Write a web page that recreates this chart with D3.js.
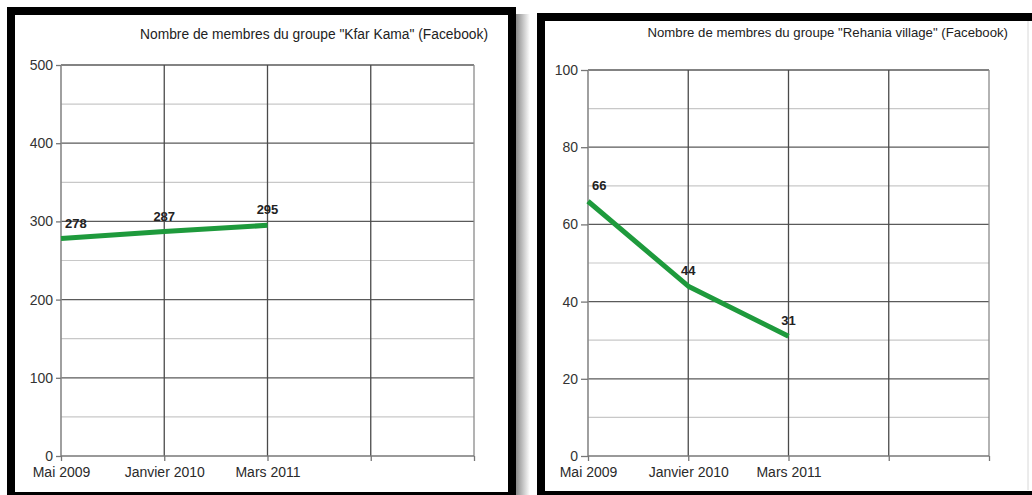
<!DOCTYPE html>
<html>
<head>
<meta charset="utf-8">
<script src="https://cdn.jsdelivr.net/npm/d3@7"></script>
<style>
  html, body { margin: 0; padding: 0; background: #ffffff; }
  svg { display: block; }
  text { font-family: "Liberation Sans", Arial, sans-serif; }
</style>
</head>
<body>
<svg id="chart" width="1032" height="495"></svg>
<script>
// ---- data ----
const categories = ["Mai 2009", "Janvier 2010", "Mars 2011", "", ""];
const kfarKamaValues = [278, 287, 295];
const rehaniaValues = [66, 44, 31];
const kfarKamaTicks = [0, 100, 200, 300, 400, 500];
const rehaniaTicks = [0, 20, 40, 60, 80, 100];
const kfarKamaTitle = "Nombre de membres du groupe \"Kfar Kama\" (Facebook)";
const rehaniaTitle = "Nombre de membres du groupe \"Rehania village\" (Facebook)";

const svg = d3.select("#chart");

// drop shadow gradient
const defs = svg.append("defs");
const grad = defs.append("linearGradient").attr("id", "shadow").attr("x1", "0").attr("x2", "1");
grad.append("stop").attr("offset", "0%").attr("stop-color", "#8a8a8a");
grad.append("stop").attr("offset", "100%").attr("stop-color", "#ffffff");

svg.append("rect").attr("x", 516).attr("y", 14).attr("width", 14).attr("height", 481).attr("fill", "url(#shadow)");

// frames
svg.append("rect").attr("x", 11).attr("y", 11).attr("width", 501).attr("height", 485)
  .attr("fill", "#fff").attr("stroke", "#000").attr("stroke-width", 8);
svg.append("rect").attr("x", 541).attr("y", 17).attr("width", 500).attr("height", 478)
  .attr("fill", "#fff").attr("stroke", "#000").attr("stroke-width", 8);
svg.append("line").attr("x1", 1028).attr("x2", 1028).attr("y1", 21).attr("y2", 490)
  .attr("stroke", "#d8d8d8").attr("stroke-width", 1);

function drawPanel(cfg) {
  const g = svg.append("g");
  const x = d3.scalePoint().domain(d3.range(categories.length)).range([cfg.left, cfg.right]);
  const y = d3.scaleLinear().domain([0, cfg.max]).range([cfg.bottom, cfg.top]);

  // minor gridlines
  const minor = d3.range(cfg.minorStep, cfg.max, cfg.minorStep).filter(v => !cfg.ticks.includes(v));
  g.selectAll(".minor").data(minor).join("line")
    .attr("x1", cfg.left).attr("x2", cfg.right)
    .attr("y1", d => y(d)).attr("y2", d => y(d))
    .attr("stroke", "#c8c8c8").attr("stroke-width", 1.2);

  // major horizontal gridlines
  g.selectAll(".major").data(cfg.ticks.filter(v => v > 0)).join("line")
    .attr("x1", cfg.left).attr("x2", cfg.right)
    .attr("y1", d => y(d)).attr("y2", d => y(d))
    .attr("stroke", "#5a5a5a").attr("stroke-width", 1.3);

  // vertical gridlines
  g.selectAll(".vgrid").data(d3.range(1, categories.length)).join("line")
    .attr("x1", d => x(d)).attr("x2", d => x(d))
    .attr("y1", cfg.top).attr("y2", cfg.bottom)
    .attr("stroke", d => d === categories.length - 1 ? "#8a8a8a" : "#4a4a4a").attr("stroke-width", 1.3);

  // y axis
  const yAxis = d3.axisLeft(y).tickValues(cfg.ticks).tickSize(cfg.tickLen).tickPadding(3).tickFormat(d3.format("d"));
  const ya = g.append("g").attr("transform", `translate(${cfg.left},0)`).call(yAxis);
  ya.select(".domain").attr("stroke", "#888").attr("stroke-width", 1.6).attr("d", `M0,${cfg.top}V${cfg.bottom}`);
  ya.selectAll(".tick line").attr("stroke", "#777").attr("stroke-width", 1.3);
  ya.selectAll(".tick text").attr("fill", "#333").style("font-size", "14px")
    .style("font-family", "'Liberation Sans', Arial, sans-serif");

  // x axis
  const xAxis = d3.axisBottom(x).tickSize(5).tickPadding(6).tickFormat(i => categories[i]);
  const xa = g.append("g").attr("transform", `translate(0,${cfg.bottom})`).call(xAxis);
  xa.select(".domain").attr("stroke", "#777").attr("stroke-width", 1.6).attr("d", `M${cfg.left},0H${cfg.right}`);
  xa.selectAll(".tick line").attr("stroke", "#777").attr("stroke-width", 1.3);
  xa.selectAll(".tick text").attr("fill", "#2a2a2a").style("font-size", "14px")
    .style("font-family", "'Liberation Sans', Arial, sans-serif");

  // line
  const line = d3.line().x((d, i) => x(i)).y(d => y(d));
  g.append("path").datum(cfg.values)
    .attr("d", line).attr("fill", "none")
    .attr("stroke", "#1e9a3c").attr("stroke-width", 5).attr("stroke-linejoin", "round");

  // data labels
  g.selectAll(".lbl").data(cfg.values).join("text")
    .attr("x", (d, i) => i === 0 ? x(i) + 4 : x(i))
    .attr("y", d => y(d) - 11)
    .attr("text-anchor", (d, i) => i === 0 ? "start" : "middle")
    .attr("fill", "#222").style("font-size", "13px").style("font-weight", "bold")
    .text(d => d);

  // title
  g.append("text").attr("x", cfg.titleX).attr("y", cfg.titleY)
    .attr("text-anchor", "end").attr("fill", "#222").style("font-size", cfg.titleSize + "px")
    .text(cfg.title);
}

drawPanel({ left: 61, right: 474, top: 65, bottom: 456, max: 500, ticks: kfarKamaTicks, minorStep: 50,
  tickLen: 5, values: kfarKamaValues, title: kfarKamaTitle, titleX: 488, titleY: 39, titleSize: 13.8 });
drawPanel({ left: 588, right: 989, top: 70, bottom: 456, max: 100, ticks: rehaniaTicks, minorStep: 10,
  tickLen: 7, values: rehaniaValues, title: rehaniaTitle, titleX: 1008, titleY: 37, titleSize: 13.2 });
</script>
</body>
</html>
